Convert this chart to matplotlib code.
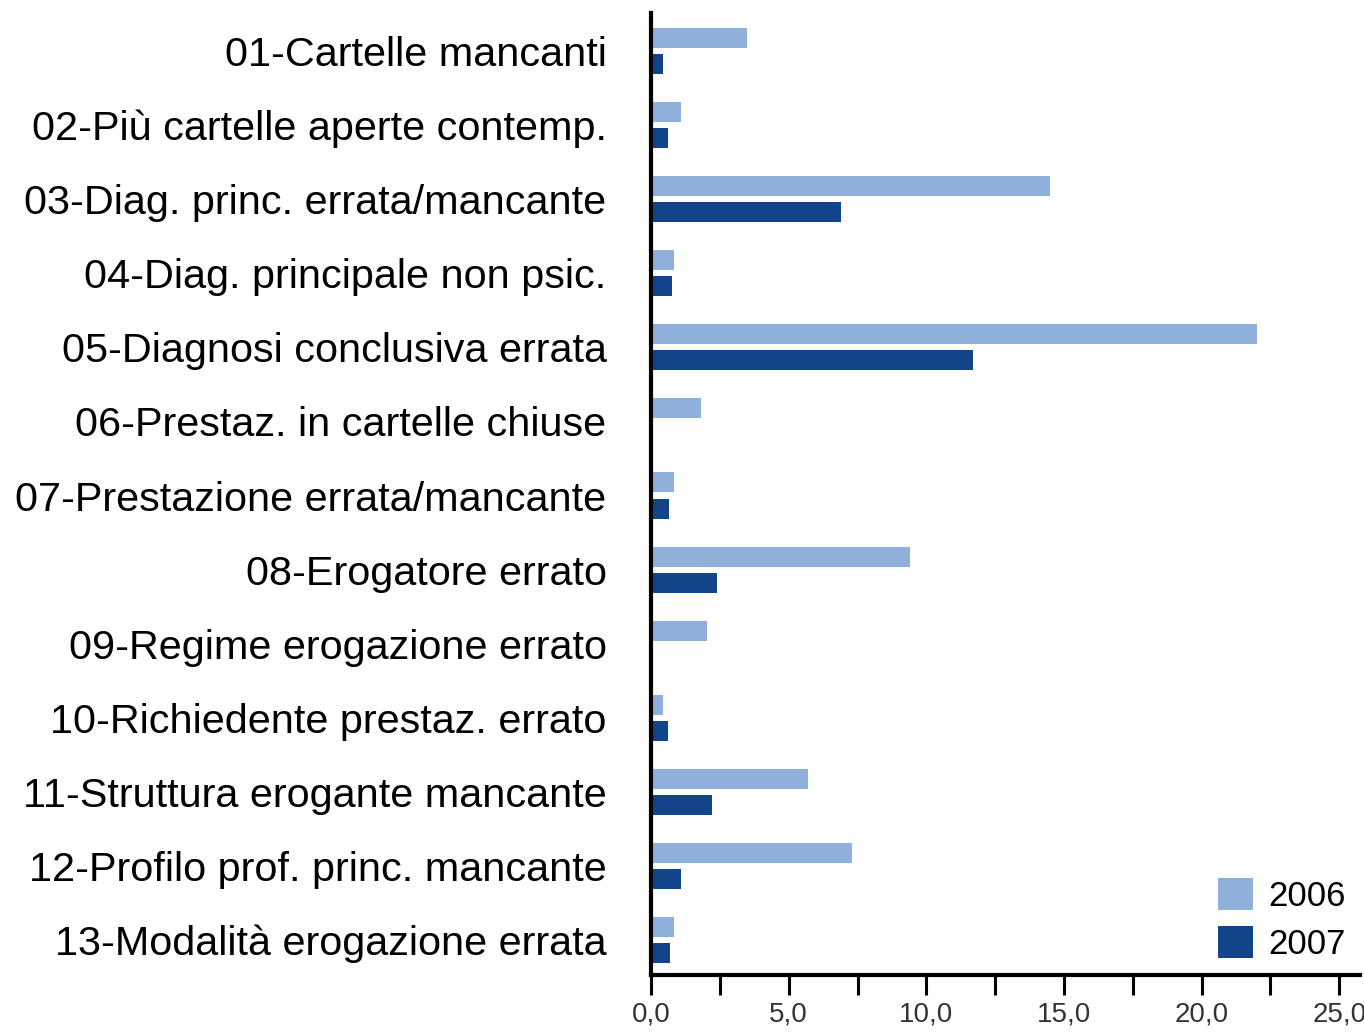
import matplotlib
matplotlib.use("Agg")
import matplotlib.pyplot as plt
import numpy as np
from matplotlib.ticker import MultipleLocator, FuncFormatter

# Categories and values (percent)
categories = [
    "01-Cartelle mancanti",
    "02-Più cartelle aperte contemp.",
    "03-Diag. princ. errata/mancante",
    "04-Diag. principale non psic.",
    "05-Diagnosi conclusiva errata",
    "06-Prestaz. in cartelle chiuse",
    "07-Prestazione errata/mancante",
    "08-Erogatore errato",
    "09-Regime erogazione errato",
    "10-Richiedente prestaz. errato",
    "11-Struttura erogante mancante",
    "12-Profilo prof. princ. mancante",
    "13-Modalità erogazione errata",
]
vals_2006 = [3.5, 1.1, 14.5, 0.85, 22.0, 1.8, 0.85, 9.4, 2.05, 0.45, 5.7, 7.3, 0.85]
vals_2007 = [0.45, 0.6, 6.9, 0.75, 11.7, 0.0, 0.65, 2.4, 0.0, 0.6, 2.2, 1.1, 0.7]

col_2006 = "#8fb0da"
col_2007 = "#124489"

plt.rcParams["font.family"] = ["Liberation Sans", "DejaVu Sans"]

fig = plt.figure(figsize=(13.64, 10.33), dpi=100)
ax = fig.add_axes([0.4773, 0.0562, 0.5197, 0.9313])

y = np.arange(len(categories))
h = 0.27
off = 0.176
ax.barh(y - off, vals_2006, height=h, color=col_2006, label="2006")
ax.barh(y + off, vals_2007, height=h, color=col_2007, label="2007")

ax.set_ylim(12.47, -0.513)
ax.set_xlim(0, 25.75)

ax.set_yticks(y)
ax.set_yticklabels(categories, fontsize=29.8)
ax.tick_params(axis="y", length=0, pad=32)

ax.xaxis.set_major_locator(MultipleLocator(5))
ax.xaxis.set_minor_locator(MultipleLocator(2.5))
ax.xaxis.set_major_formatter(FuncFormatter(lambda v, p: f"{v:.1f}".replace(".", ",")))
ax.tick_params(axis="x", which="both", length=14.4, width=2.2, direction="out")
ax.tick_params(axis="x", which="major", pad=5, labelsize=20, labelcolor="#333333")

for s in ["top", "right"]:
    ax.spines[s].set_visible(False)
ax.spines["left"].set_linewidth(3)
ax.spines["bottom"].set_linewidth(3)

ax.legend(loc="lower right", fontsize=25, frameon=False, handlelength=1.0,
          handleheight=1.05, handletextpad=0.45, labelspacing=0.38,
          borderaxespad=0.2, borderpad=0.2)

fig.savefig("out.png", dpi=100)
